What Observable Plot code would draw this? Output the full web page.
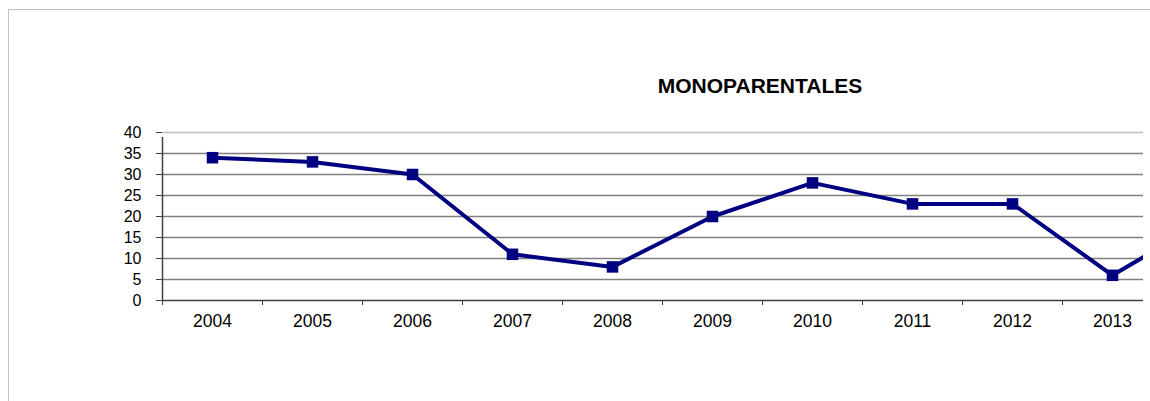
<!DOCTYPE html>
<html>
<head>
<meta charset="utf-8">
<script src="https://cdn.jsdelivr.net/npm/d3@7"></script>
<script src="https://cdn.jsdelivr.net/npm/@observablehq/plot@0.6"></script>
<style>
  html, body { margin: 0; padding: 0; background: #fff; width: 1150px; height: 401px; overflow: hidden; }
  #wrap { position: relative; width: 1150px; height: 401px; font-family: "Liberation Sans", Arial, sans-serif; }
  #frame { position: absolute; left: 8px; top: 9px; width: 1142px; height: 400px; border-top: 1px solid #c0c0c0; border-left: 1px solid #c0c0c0; box-sizing: border-box; }
  #title { position: absolute; left: 560px; width: 400px; top: 74px; text-align: center; font-weight: bold; font-size: 21px; color: #000; line-height: 24px; }
  #chart { position: absolute; left: 0; top: 0; }
</style>
</head>
<body>
<div id="wrap">
  <div id="frame"></div>
  <div id="chart"></div>
  <div id="title">MONOPARENTALES</div>
</div>
<script>
const title = "MONOPARENTALES";
const years = [2004, 2005, 2006, 2007, 2008, 2009, 2010, 2011, 2012, 2013, 2014];
const values = [34, 33, 30, 11, 8, 20, 28, 23, 23, 6, 20];
const xTickLabels = [2004, 2005, 2006, 2007, 2008, 2009, 2010, 2011, 2012, 2013];
const yTicks = [0, 5, 10, 15, 20, 25, 30, 35, 40];

const data = years.map((y, i) => ({year: y, value: values[i]}));
const bandEdges = xTickLabels.map(y => y - 0.5);

const plot = Plot.plot({
  width: 1150,
  height: 401,
  marginLeft: 162,
  marginRight: 7,
  marginTop: 132,
  marginBottom: 101,
  style: {fontFamily: "'Liberation Sans', Arial, sans-serif", background: "transparent", overflow: "visible"},
  x: {type: "linear", domain: [2003.5, 2013.31]},
  y: {domain: [0, 40]},
  marks: [
    Plot.ruleY(yTicks.filter(d => d > 0 && d < 40), {stroke: "#7f7f7f", strokeWidth: 1.3, strokeOpacity: 1}),
    Plot.ruleY([40], {stroke: "#bdbdbd", strokeWidth: 1.3, strokeOpacity: 1}),
    Plot.ruleY([0], {stroke: "#404040", strokeWidth: 1.5, strokeOpacity: 1}),
    Plot.ruleX([2003.5], {y1: 0, y2: 40, stroke: "#404040", strokeWidth: 1.5, insetBottom: -5}),
    Plot.axisY({ticks: yTicks, tickSize: 6, tickPadding: 15, fontSize: 16, stroke: "#404040", color: "#000", label: null}),
    Plot.axisX({ticks: bandEdges, tickSize: 5, tickFormat: () => "", stroke: "#404040", label: null}),
    Plot.axisX({ticks: xTickLabels, tickSize: 0, tickPadding: 14, fontSize: 17.5, tickFormat: d => String(d), color: "#000", label: null}),
    Plot.line(data, {x: "year", y: "value", stroke: "#000080", strokeWidth: 4, clip: true}),
    Plot.dot(data, {x: "year", y: "value", symbol: "square", r: 6.5, fill: "#000080", stroke: "none", clip: true})
  ]
});
document.getElementById("chart").appendChild(plot);
</script>
</body>
</html>
